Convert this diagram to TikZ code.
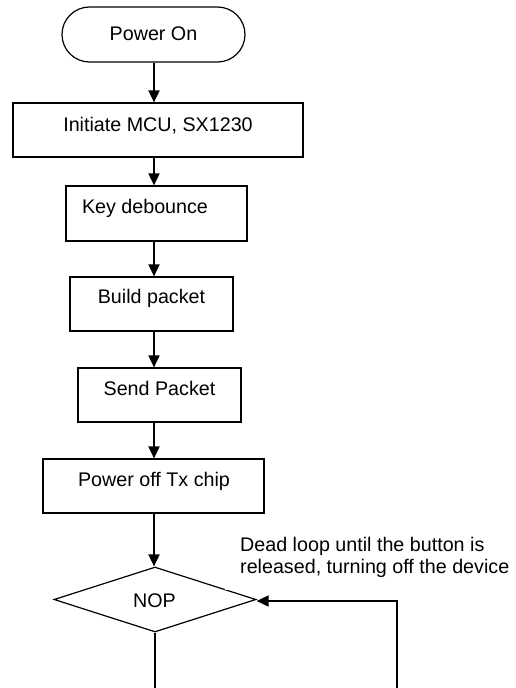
\documentclass[tikz,border=0pt]{standalone}
\usepackage{fontspec}
\setmainfont{Liberation Sans}
\usetikzlibrary{shapes.geometric,arrows.meta}
\tikzset{
  boxshape/.style={draw=black,line width=1.2pt,rectangle,inner sep=0pt},
  txt/.style={inner sep=0pt,anchor=base,font=\fontsize{19.7}{22}\selectfont},
  arr/.style={draw=black,line width=1.8pt,-{Triangle[length=12pt,width=11pt]}},
  plain/.style={draw=black,line width=1.8pt}
}
\begin{document}
\begin{tikzpicture}[x=1pt,y=-1pt]
\useasboundingbox (0,0) rectangle (516,688);
% shapes
\node[boxshape,rounded corners=27.5pt,minimum width=183pt,minimum height=55pt] (pon) at (153.5,34.5) {};
\node[boxshape,minimum width=290pt,minimum height=54pt] (init) at (158,130) {};
\node[boxshape,minimum width=181pt,minimum height=55pt] (kd) at (156.5,213.5) {};
\node[boxshape,minimum width=163pt,minimum height=54pt] (bp) at (151.5,304) {};
\node[boxshape,minimum width=163pt,minimum height=54pt] (sp) at (159.5,395) {};
\node[boxshape,minimum width=221pt,minimum height=54pt] (pt) at (153.5,486) {};
\node[draw=black,line width=1.2pt,diamond,inner sep=0pt,aspect=3.1,minimum width=202pt,minimum height=65pt] (nop) at (155,599.5) {};
% cover of the note box
\fill[white] (225,532) rectangle (516,590);
% texts
\node[txt] (tpon) at (153.5,40) {Power On};
\node[txt] (tinit) at (158,131) {Initiate MCU, SX1230};
\node[txt] (tkd) at (145,213) {Key debounce};
\node[txt] (tbp) at (151.5,303) {Build packet};
\node[txt] (tsp) at (159.5,395) {Send Packet};
\node[txt] (tpt) at (154,486) {Power off Tx chip};
\node[txt] (tnop) at (154.5,607) {NOP};
\node[txt,anchor=base west] (note1) at (240,551) {Dead loop until the button is};
\node[txt,anchor=base west] (note2) at (240,573) {released, turning off the device};
% connectors
\coordinate (col) at (154,0);
\draw[arr] (col |- pon.south) -- (col |- init.north);
\draw[arr] (col |- init.south) -- (col |- kd.north);
\draw[arr] (col |- kd.south) -- (col |- bp.north);
\draw[arr] (col |- bp.south) -- (col |- sp.north);
\draw[arr] (col |- sp.south) -- (col |- pt.north);
\draw[arr] (col |- pt.south) -- (col |- nop.north);
\coordinate (b1) at (155,688);
\coordinate (b2) at (397,688);
\coordinate (c) at (397,601);
\draw[plain] (nop.south) -- (b1);
\draw[arr] (b2) -- (c) -- (c -| nop.east);
\end{tikzpicture}
\end{document}
